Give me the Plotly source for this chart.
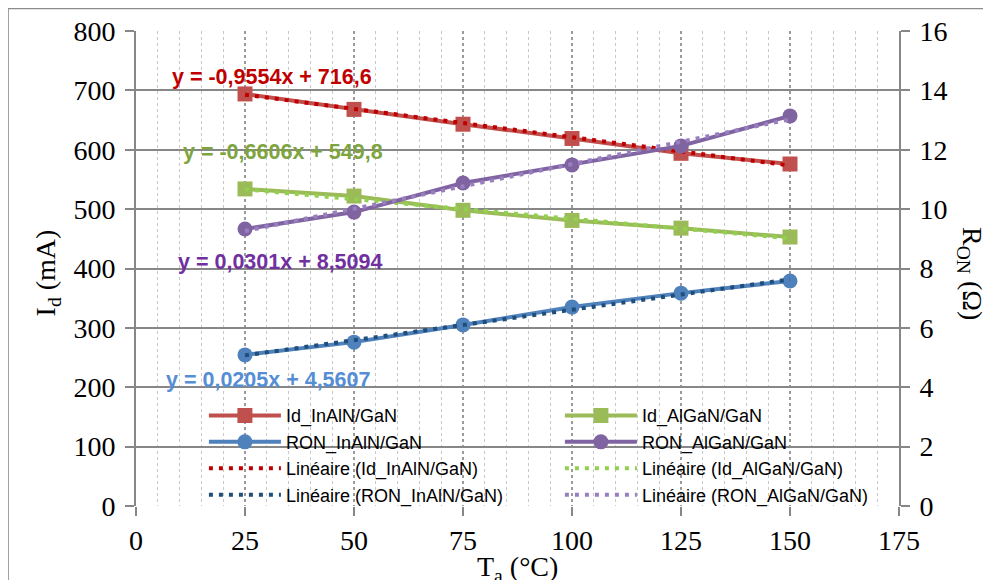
import plotly.graph_objects as go

# ---- data ----
temps = [25, 50, 75, 100, 125, 150]
id_inaln = [694, 668, 643, 619, 594, 576]
id_algan = [534, 522, 498, 481, 468, 453]
ron_inaln = [5.09, 5.52, 6.10, 6.70, 7.17, 7.58]
ron_algan = [9.33, 9.90, 10.88, 11.49, 12.13, 13.14]

# linear fit coefficients as displayed on the chart
slopes = {"id_inaln": -0.9554, "id_algan": -0.6606, "ron_inaln": 0.0205, "ron_algan": 0.0301}
intercepts = {"id_inaln": 716.6, "id_algan": 549.8, "ron_inaln": 4.5607, "ron_algan": 8.5094}
eq_labels = {
    "id_inaln": "y = -0,9554x + 716,6",
    "id_algan": "y = -0,6606x + 549,8",
    "ron_algan": "y = 0,0301x + 8,5094",
    "ron_inaln": "y = 0,0205x + 4,5607",
}
x_ticks = [0, 25, 50, 75, 100, 125, 150, 175]

RED, GREEN, BLUE, PURPLE = "#C0504D", "#9BBB59", "#4F81BD", "#8064A2"
T_RED, T_GREEN, T_BLUE, T_PURPLE = "#C00000", "#92D050", "#1F4E79", "#9A7FC0"

def fit(key):
    return [slopes[key] * t + intercepts[key] for t in temps]

fig = go.Figure()
LEG = dict(family="Liberation Sans, Arial", size=18, color="#000")

def series(name, y, color, symbol, axis):
    fig.add_trace(go.Scatter(x=temps, y=y, name=name, mode="lines+markers", yaxis=axis,
                             line=dict(color=color, width=4),
                             marker=dict(symbol=symbol, size=15, color=color)))

def trend(name, key, color, axis):
    fig.add_trace(go.Scatter(x=temps, y=fit(key), name=name, mode="lines", yaxis=axis,
                             line=dict(color=color, width=4, dash="4px,6px")))

series("Id_InAlN/GaN", id_inaln, RED, "square", "y")
series("Id_AlGaN/GaN", id_algan, GREEN, "square", "y")
series("RON_InAlN/GaN", ron_inaln, BLUE, "circle", "y2")
series("RON_AlGaN/GaN", ron_algan, PURPLE, "circle", "y2")
trend("Linéaire (Id_InAlN/GaN)", "id_inaln", T_RED, "y")
trend("Linéaire (Id_AlGaN/GaN)", "id_algan", T_GREEN, "y")
trend("Linéaire (RON_InAlN/GaN)", "ron_inaln", T_BLUE, "y2")
trend("Linéaire (RON_AlGaN/GaN)", "ron_algan", T_PURPLE, "y2")

TICKF = dict(family="Liberation Serif, Times New Roman", size=28, color="#000")

fig.update_layout(
    width=991, height=580,
    margin=dict(l=128, r=100, t=23, b=82),
    paper_bgcolor="white", plot_bgcolor="white",
    showlegend=True,
    legend=dict(orientation="h", x=0.089, y=0.229, xanchor="left", yanchor="top",
                bgcolor="rgba(0,0,0,0)", font=LEG, entrywidth=269, entrywidthmode="pixels",
                itemwidth=72, tracegroupgap=0, traceorder="normal"),
    xaxis=dict(range=[0, 175], tickvals=x_ticks, ticktext=[str(v) for v in x_ticks],
               tickfont=TICKF, ticks="outside", ticklen=9, tickcolor="#878787", tickwidth=2,
               showgrid=True, gridcolor="#9a9a9a", griddash="dot", gridwidth=1.5,
               minor=dict(dtick=5, showgrid=True, gridcolor="#c8c8c8", griddash="dot", gridwidth=1),
               showline=False, zeroline=False, automargin=False),
    yaxis=dict(range=[0, 800], dtick=100, tickfont=TICKF, ticks="outside", ticklen=9,
               tickcolor="#878787", tickwidth=2, showgrid=True, gridcolor="#878787", gridwidth=2,
               showline=True, linecolor="#878787", linewidth=2, zeroline=False,
               ticklabelstandoff=4, automargin=False),
    yaxis2=dict(range=[0, 16], dtick=2, overlaying="y", side="right", tickfont=TICKF,
                ticks="outside", ticklen=9, tickcolor="#878787", tickwidth=2, showgrid=False,
                showline=True, linecolor="#878787", linewidth=2, zeroline=False,
                ticklabelstandoff=4, automargin=False),
)

ann = []
EQF = dict(family="Liberation Sans, Arial", size=21.5, weight="bold")
eq_pos = {"id_inaln": (31.2, 722), "id_algan": (33.7, 596), "ron_algan": (33.0, 411), "ron_inaln": (30.3, 212)}
eq_col = {"id_inaln": "#C00000", "id_algan": "#7EA43F", "ron_algan": "#7030A0", "ron_inaln": "#558ED5"}
for k, (ex, ey) in eq_pos.items():
    ann.append(dict(x=ex, y=ey, xref="x", yref="y", text=eq_labels[k], showarrow=False,
                    font=dict(**EQF, color=eq_col[k])))
TITLEF = dict(family="Liberation Serif, Times New Roman", size=28, color="#000")
ann.append(dict(x=-0.142, y=0.49, xref="paper", yref="paper", text="I<sub>d</sub> (mA)",
                textangle=-90, showarrow=False, font=TITLEF))
ann.append(dict(x=1.119, y=0.49, xref="paper", yref="paper", text="R<sub>ON</sub> (Ω)",
                textangle=90, showarrow=False, font=TITLEF))
ann.append(dict(x=0.5, y=-0.09, xref="paper", yref="paper", text="T<sub>a</sub> (°C)",
                showarrow=False, yanchor="top", font=TITLEF))
fig.update_layout(annotations=ann)

fig.add_shape(type="rect", xref="paper", yref="paper", x0=-0.168, y0=-0.3, x1=1.3, y1=1.048,
              line=dict(color="#8c8c8c", width=2), fillcolor="rgba(0,0,0,0)", layer="below")

fig.write_html("out.html")
